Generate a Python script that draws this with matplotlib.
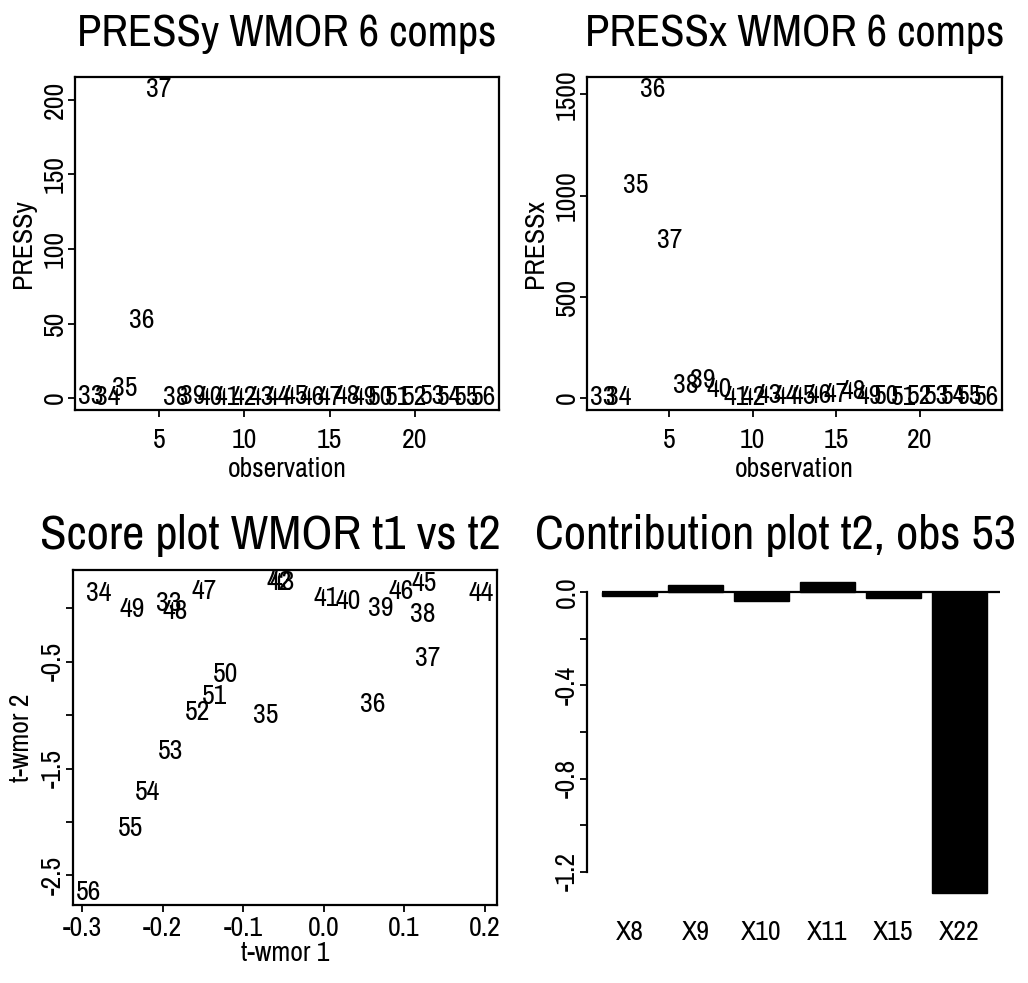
import numpy as np
import matplotlib
matplotlib.use("Agg")
import matplotlib.pyplot as plt
from matplotlib import font_manager

# Fonts: prefer a narrow sans (R/Helvetica look), else Liberation Sans
names = {f.name for f in font_manager.fontManager.ttflist}
narrow = [n for n in sorted(names) if "Narrow" in n or "Condensed" in n]
NARROW = len(narrow) > 0
plt.rcParams["font.family"] = (narrow[:1] or ["Liberation Sans"]) + ["DejaVu Sans"]

# Data
obs = list(range(33, 57))
pressy = [0.8, 0.6, 6.5, 52, 207, 0.5, 0.9, 0.7, 0.3, 0.6, 0.4, 0.5,
          0.8, 0.6, 0.4, 0.9, 0.7, 0.5, 0.6, 0.4, 0.8, 0.6, 0.5, 0.7]
pressx = [3, 3, 1050, 1525, 780, 60, 85, 40, 2, 4, 12, 6,
          10, 15, 18, 30, 8, 6, 4, 8, 6, 6, 10, 5]
t1 = [-0.192, -0.279, -0.072, 0.061, 0.129, 0.123, 0.071, 0.030, 0.003, -0.055, -0.052, 0.196,
      0.125, 0.096, -0.149, -0.184, -0.238, -0.122, -0.136, -0.157, -0.190, -0.219, -0.240, -0.292]
t2 = [0.047, 0.140, -1.000, -0.906, -0.470, -0.060, 0.000, 0.060, 0.094, 0.240, 0.235, 0.140,
      0.234, 0.156, 0.156, -0.030, -0.016, -0.625, -0.830, -0.980, -1.340, -1.720, -2.060, -2.660]
contrib_vars = ["X8", "X9", "X10", "X11", "X15", "X22"]
contrib = [-0.017, 0.033, -0.036, 0.043, -0.026, -1.29]

FS = 20 if NARROW else 18
TOP_TITLE_FS = 32 if NARROW else 26
BOT_TITLE_FS = 35 if NARROW else 28


def rlim(vals):
    lo, hi = min(vals), max(vals)
    ext = 0.04 * (hi - lo)
    return lo - ext, hi + ext


def style(ax, xpad):
    for s in ax.spines.values():
        s.set_linewidth(1.6)
    ax.tick_params(direction="out", length=5, width=1.3, labelsize=FS)
    ax.tick_params(axis="x", pad=xpad)
    ax.tick_params(axis="y", pad=0)
    for lab in ax.get_yticklabels():
        lab.set_rotation(90)
        lab.set_va("center")


W, H = 1028, 983
fig = plt.figure(figsize=(W / 100, H / 100), dpi=100)


def box(l, r, t, b):
    return [l / W, 1 - b / H, (r - l) / W, (b - t) / H]


ax1 = fig.add_axes(box(75, 499, 77, 410))
ax2 = fig.add_axes(box(587, 1002, 77, 410))
ax3 = fig.add_axes(box(73, 497, 570, 905))
ax4 = fig.add_axes(box(587, 1002, 570, 905))

idx = np.arange(1, len(obs) + 1)

# PRESSy
for i, v, o in zip(idx, pressy, obs):
    ax1.text(i, v, str(o), ha="center", va="center", fontsize=FS)
ax1.set_xlim(*rlim(idx))
ax1.set_ylim(*rlim(pressy))
ax1.set_xticks([5, 10, 15, 20])
ax1.set_yticks([0, 50, 100, 150, 200])
ax1.set_xlabel("observation", fontsize=FS, labelpad=3)
ax1.set_ylabel("PRESSy", fontsize=FS, labelpad=5)
ax1.set_title("PRESSy WMOR 6 comps", fontsize=TOP_TITLE_FS, pad=22)
style(ax1, 8)

# PRESSx
for i, v, o in zip(idx, pressx, obs):
    ax2.text(i, v, str(o), ha="center", va="center", fontsize=FS)
ax2.set_xlim(*rlim(idx))
ax2.set_ylim(*rlim(pressx))
ax2.set_xticks([5, 10, 15, 20])
ax2.set_yticks([0, 500, 1000, 1500])
ax2.set_xlabel("observation", fontsize=FS, labelpad=3)
ax2.set_ylabel("PRESSx", fontsize=FS, labelpad=5)
ax2.set_title("PRESSx WMOR 6 comps", fontsize=TOP_TITLE_FS, pad=22)
style(ax2, 8)

# Score plot
for x, y, o in zip(t1, t2, obs):
    ax3.text(x, y, str(o), ha="center", va="center", fontsize=FS)
ax3.set_xlim(*rlim(t1))
ax3.set_ylim(*rlim(t2))
ax3.set_xticks([-0.3, -0.2, -0.1, 0.0, 0.1, 0.2])
ax3.set_xticklabels(["-0.3", "-0.2", "-0.1", "0.0", "0.1", "0.2"])
ax3.set_yticks([-2.5, -2.0, -1.5, -1.0, -0.5, 0.0])
ax3.set_yticklabels(["-2.5", "", "-1.5", "", "-0.5", ""])
ax3.set_xlabel("t-wmor 1", fontsize=FS, labelpad=0)
ax3.set_ylabel("t-wmor 2", fontsize=FS, labelpad=5)
t3 = ax3.set_title("Score plot WMOR t1 vs t2", fontsize=BOT_TITLE_FS, pad=15)
t3.set_x(0.465)
style(ax3, 3)

# Contribution plot
pos = 0.2 + 1.2 * np.arange(len(contrib)) + 0.5
ax4.bar(pos, contrib, width=1.0, color="black", edgecolor="black")
ax4.hlines(0, pos[0] - 0.5, pos[-1] + 0.75, color="black", linewidth=1.6)
ax4.set_xlim(0.2 - 0.04 * 7, 7.2 + 0.04 * 7)
ax4.set_ylim(*rlim(contrib + [0]))
ax4.set_xticks(pos)
ax4.set_xticklabels(contrib_vars)
ax4.set_yticks([-1.2, -1.0, -0.8, -0.6, -0.4, -0.2, 0.0])
ax4.set_yticklabels(["-1.2", "", "-0.8", "", "-0.4", "", "0.0"])
t4 = ax4.set_title("Contribution plot t2, obs 53", fontsize=BOT_TITLE_FS, pad=15)
t4.set_x(0.455)
style(ax4, 11)
for s in ["top", "right", "bottom"]:
    ax4.spines[s].set_visible(False)
ax4.spines["left"].set_bounds(-1.2, 0.0)
ax4.tick_params(axis="x", length=0)

fig.savefig("out.png", dpi=100, facecolor="white")
